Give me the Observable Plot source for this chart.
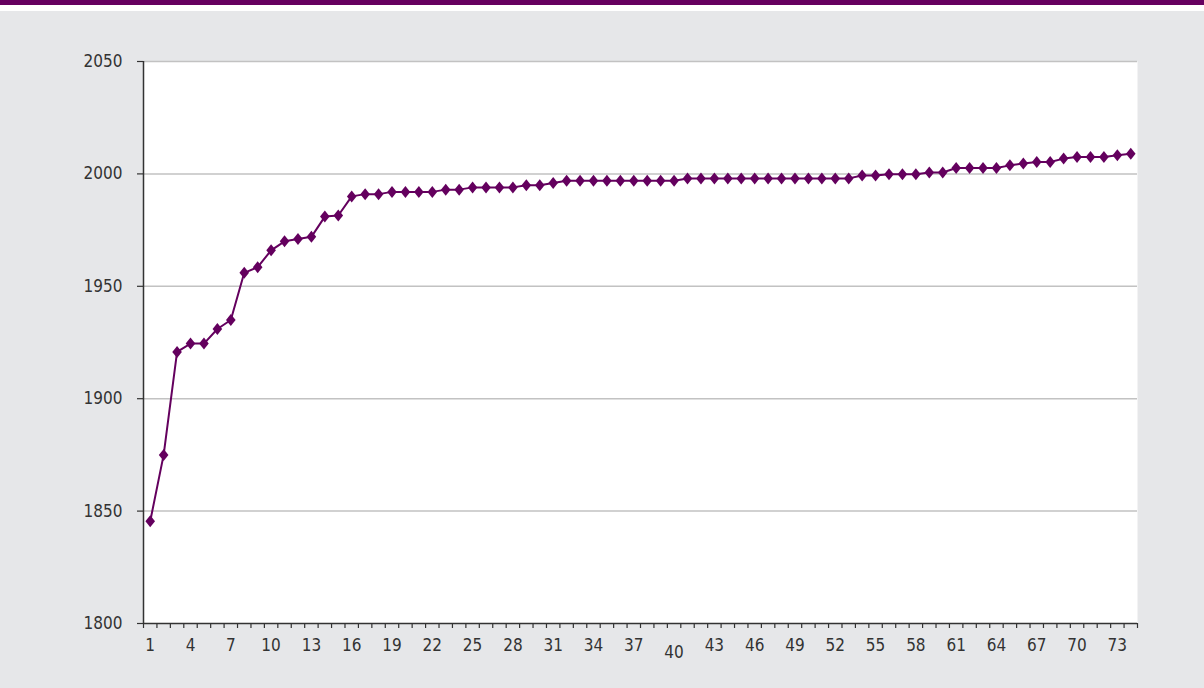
<!DOCTYPE html>
<html>
<head>
<meta charset="utf-8">
<script src="https://cdn.jsdelivr.net/npm/d3@7"></script>
<script src="https://cdn.jsdelivr.net/npm/@observablehq/plot@0.6"></script>
<style>
  html, body { margin: 0; padding: 0; background: #ffffff; }
  #topbar { height: 5px; background: #66005f; }
  #gap { height: 6px; background: #ffffff; }
  #chart svg { display: block; }
</style>
</head>
<body>
<div id="topbar"></div>
<div id="gap"></div>
<div id="chart"></div>
<script>
// Rank (category index) and value (year)
const ranks = d3.range(1, 75);
const values = [
  1845.5, 1875, 1920.8, 1924.5, 1924.5, 1931, 1935, 1956, 1958.5, 1966,
  1970, 1971, 1972, 1981, 1981.5, 1990, 1991, 1991, 1992, 1992,
  1992, 1992, 1993, 1993, 1994, 1994, 1994, 1994, 1995, 1995,
  1996, 1997, 1997, 1997, 1997, 1997, 1997, 1997, 1997, 1997,
  1998, 1998, 1998, 1998, 1998, 1998, 1998, 1998, 1998, 1998,
  1998, 1998, 1998, 1999.3, 1999.3, 1999.8, 1999.8, 1999.8, 2000.6, 2000.6,
  2002.6, 2002.6, 2002.6, 2002.6, 2003.8, 2004.6, 2005.3, 2005.3, 2006.8, 2007.5,
  2007.5, 2007.5, 2008.3, 2009
];
const yTicks = [1800, 1850, 1900, 1950, 2000, 2050];
const xLabels = [1, 4, 7, 10, 13, 16, 19, 22, 25, 28, 31, 34, 37, 40, 43, 46, 49, 52, 55, 58, 61, 64, 67, 70, 73];

const data = ranks.map((r, i) => ({rank: r, value: values[i]}));
const boundaries = d3.range(0.5, ranks.length + 1, 1);
const purple = "#64005e";

const diamond = {
  draw(ctx) {
    const h = 6, w = 4.8;
    ctx.moveTo(0, -h);
    ctx.lineTo(w, 0);
    ctx.lineTo(0, h);
    ctx.lineTo(-w, 0);
    ctx.closePath();
  }
};

const font = "'Liberation Sans Narrow', 'Arial Narrow', 'DejaVu Sans Condensed', sans-serif";

const chart = Plot.plot({
  width: 1204,
  height: 677,
  marginTop: 50,
  marginBottom: 65,
  marginLeft: 143,
  marginRight: 67,
  style: {background: "#e6e7e9", color: "#333333", fontFamily: font, fontSize: "17px"},
  x: {domain: [0.5, ranks.length + 0.5]},
  y: {domain: [1800, 2050]},
  marks: [
    Plot.frame({fill: "white", stroke: null}),
    Plot.gridY(yTicks.slice(1), {stroke: "#c2c2c2", strokeOpacity: 1, strokeWidth: 1.5}),
    Plot.axisY({ticks: yTicks, tickSize: 6, tickPadding: 15, tickFormat: d => String(d), stroke: "#333", strokeWidth: 1.2, label: null}),
    Plot.ruleX([0.5], {stroke: "#333", strokeWidth: 1.5}),
    Plot.ruleY([1800], {stroke: "#333", strokeWidth: 1.5}),
    Plot.axisX({ticks: boundaries, tickSize: 5, tickFormat: () => "", stroke: "#333", strokeWidth: 1.2, label: null}),
    Plot.axisX({ticks: xLabels.filter(d => d !== 40), tickSize: 0, tickPadding: 15, tickFormat: d => String(d), label: null}),
    Plot.axisX({ticks: [40], tickSize: 0, tickPadding: 22, tickFormat: d => String(d), label: null}),
    Plot.line(data, {x: "rank", y: "value", stroke: purple, strokeWidth: 2}),
    Plot.dot(data, {x: "rank", y: "value", symbol: diamond, fill: purple, stroke: null})
  ]
});
document.getElementById("chart").appendChild(chart);
</script>
</body>
</html>
